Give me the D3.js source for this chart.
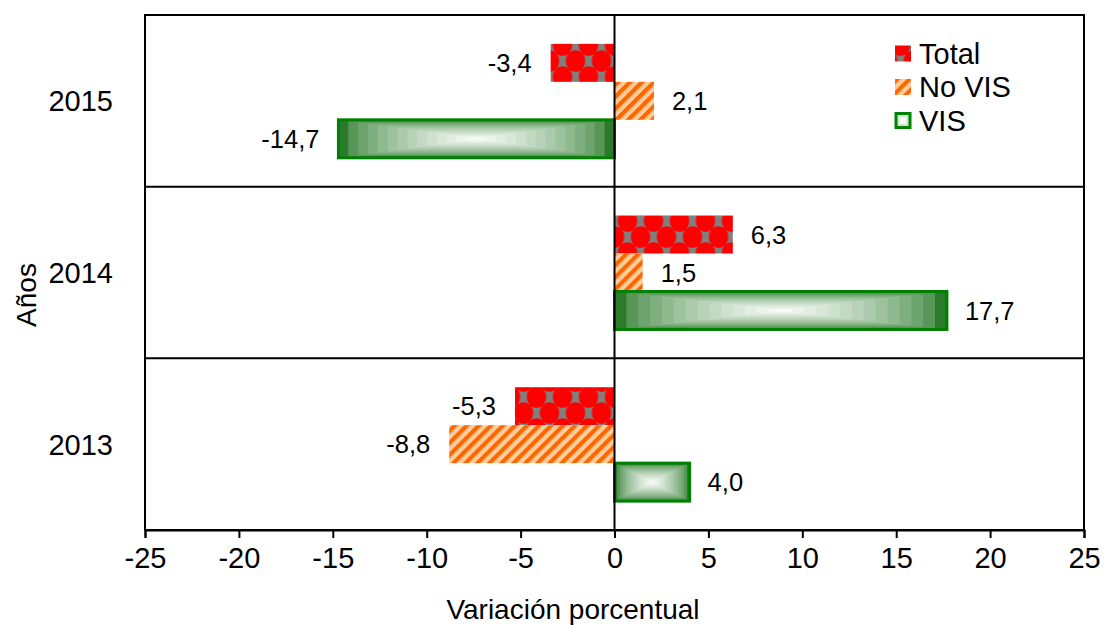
<!DOCTYPE html>
<html><head><meta charset="utf-8">
<script src="https://cdn.jsdelivr.net/npm/d3@7"></script>
<style>body{margin:0;background:#fff}svg{display:block;font-family:"Liberation Sans",Arial,sans-serif}</style>
</head><body><svg id="c" width="1105" height="626"></svg>
<script>
const years = ["2015","2014","2013"];
const series = ["Total","No VIS","VIS"];
const totalValues = [-3.4, 6.3, -5.3];
const noVisValues = [2.1, 1.5, -8.8];
const visValues = [-14.7, 17.7, 4.0];
const xTicks = [-25,-20,-15,-10,-5,0,5,10,15,20,25];
const xTitle = "Variación porcentual";
const yTitle = "Años";

const valuesBySeries = {"Total": totalValues, "No VIS": noVisValues, "VIS": visValues};
const data = [];
years.forEach((yr,i)=>series.forEach(s=>data.push({year:yr, series:s, value:valuesBySeries[s][i]})));

const svg = d3.select("#c");
const L=145,R=1084,T=15,B=530;
const x = d3.scaleLinear().domain([-25,25]).range([L,R]);
const y = d3.scaleBand().domain(years).range([T,B]).padding(0);
const yi = d3.scaleBand().domain(series).range([0,y.bandwidth()]).paddingInner(0).paddingOuter(0.76);

const defs = svg.append("defs");
// Total pattern: red round blobs on gray, leaving gray diamonds
const PW=26, PH=32;
const p1 = defs.append("pattern").attr("id","pTotal").attr("patternUnits","userSpaceOnUse")
  .attr("width",PW).attr("height",PH).attr("x",x(0)).attr("y",T+14);
p1.append("rect").attr("width",PW).attr("height",PH).attr("fill","#808080");
[[PW/2,0],[0,PH/2],[PW,PH/2],[PW/2,PH]].forEach(([cx,cy])=>
  p1.append("ellipse").attr("cx",cx).attr("cy",cy).attr("rx",9.8).attr("ry",10.8).attr("fill","#ff0000"));
// No VIS pattern: diagonal stripes
const SP=8.5;
const p2 = defs.append("pattern").attr("id","pNoVis").attr("patternUnits","userSpaceOnUse")
  .attr("width",SP).attr("height",SP).attr("patternTransform","rotate(45)");
p2.append("rect").attr("width",SP).attr("height",SP).attr("fill","#ffcc99");
p2.append("rect").attr("width",4.2).attr("height",SP).attr("fill","#ff6600");

const fills = {"Total":"url(#pTotal)","No VIS":"url(#pNoVis)"};

// frame & separators
svg.append("rect").attr("x",L).attr("y",T).attr("width",R-L).attr("height",B-T)
  .attr("fill","none").attr("stroke","#000").attr("stroke-width",2);
years.slice(1).forEach(yr=>svg.append("line").attr("x1",L).attr("x2",R)
  .attr("y1",y(yr)).attr("y2",y(yr)).attr("stroke","#000").attr("stroke-width",2));

const bars = svg.append("g");
const N = 14;
const green = d3.interpolateRgb("#2b7b2b","#ffffff");
data.forEach(d=>{
  const x0 = x(Math.min(0,d.value)), x1 = x(Math.max(0,d.value));
  const by = y(d.year)+yi(d.series), bh = yi.bandwidth();
  if(d.series==="VIS"){
    const g = bars.append("g");
    const w = x1-x0;
    for(let k=0;k<N;k++){
      const t=k/N;
      g.append("rect").attr("x",x0+t*w/2).attr("y",by+t*bh/2)
        .attr("width",Math.max(0,w*(1-t))).attr("height",Math.max(0,bh*(1-t)))
        .attr("fill",green(Math.pow(t,0.6)));
    }
    g.append("rect").attr("x",x0).attr("y",by).attr("width",w).attr("height",bh)
      .attr("fill","none").attr("stroke","#008000").attr("stroke-width",3);
  } else {
    bars.append("rect").attr("x",x0).attr("y",by).attr("width",x1-x0).attr("height",bh)
      .attr("fill",fills[d.series]);
  }
  const lx = d.value<0 ? x0-19 : x1+18;
  svg.append("text").attr("x",lx).attr("y",by+bh/2).attr("dy","0.36em")
    .attr("text-anchor",d.value<0?"end":"start").attr("font-size",25.5)
    .text(d3.format(".1f")(d.value).replace(".",",").replace("−","-"));
});

// zero line
svg.append("line").attr("x1",x(0)).attr("x2",x(0)).attr("y1",T).attr("y2",B)
  .attr("stroke","#000").attr("stroke-width",2);

// x axis
const xa = svg.append("g").attr("transform",`translate(0,${B})`)
  .call(d3.axisBottom(x).tickValues(xTicks).tickSize(8).tickPadding(9).tickFormat(d=>String(d)));
xa.select(".domain").attr("stroke-width",2);
xa.selectAll(".tick line").attr("stroke-width",2);
xa.selectAll("text").attr("font-size",29).attr("font-family","Liberation Sans, Arial, sans-serif").attr("fill","#000");

// y labels
years.forEach(yr=>svg.append("text").attr("x",L-32).attr("y",y(yr)+y.bandwidth()/2).attr("dy","0.36em")
  .attr("text-anchor","end").attr("font-size",29).text(yr));

svg.append("text").attr("x",573).attr("y",619).attr("text-anchor","middle").attr("font-size",28).text(xTitle);
svg.append("text").attr("transform","translate(36,295) rotate(-90)").attr("text-anchor","middle").attr("font-size",28).text(yTitle);

// legend
const lg = svg.append("g");
series.forEach((s,i)=>{
  const cy = 53.5 + i*33.5;
  if(s==="VIS"){
    lg.append("rect").attr("x",896).attr("y",cy-7).attr("width",14).attr("height",14)
      .attr("fill","#cfe3cf").attr("stroke","#008000").attr("stroke-width",3);
    lg.append("rect").attr("x",899.5).attr("y",cy-3.5).attr("width",7).attr("height",7).attr("fill","#f4faf4");
  } else {
    lg.append("rect").attr("x",895).attr("y",cy-8).attr("width",16).attr("height",16).attr("fill",fills[s]);
  }
  lg.append("text").attr("x",919).attr("y",cy).attr("dy","0.36em").attr("font-size",29).text(s);
});
</script></body></html>
